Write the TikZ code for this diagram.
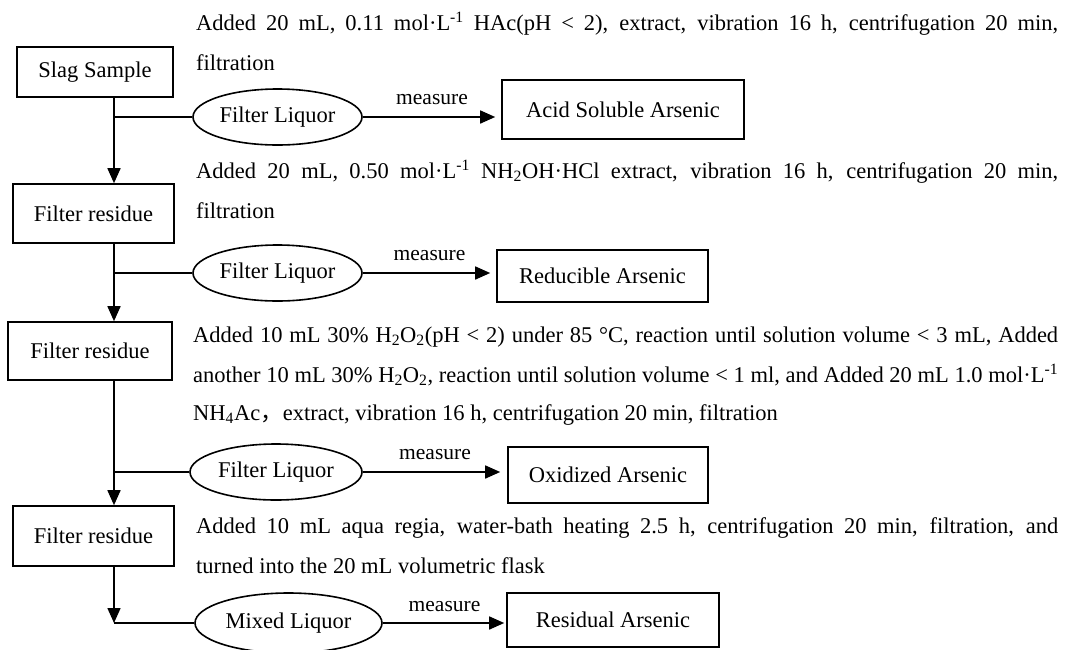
\documentclass[tikz,border=0pt]{standalone}
\usepackage{fontspec}
\setmainfont{Liberation Serif}
\newfontfamily\cjk{Noto Sans CJK SC}
\usepackage{graphicx}
\usetikzlibrary{arrows.meta,shapes.geometric}
\newsavebox\lnbox
\newcommand\fitline[2]{\sbox\lnbox{#2}\ifdim\wd\lnbox>#1\relax\resizebox{#1}{\height}{\usebox\lnbox}\else\makebox[#1][s]{#2}\fi}
\newcommand\sub[1]{\textsubscript{#1}}
\newcommand\sps[1]{\textsuperscript{#1}}
\begin{document}
\begin{tikzpicture}[x=1pt,y=-1pt,
  base/.style={line width=1.6pt},
  box/.style={base,draw,rectangle,inner sep=0pt,font=\fontsize{22.5}{26}\selectfont},
  liq/.style={base,draw,ellipse,inner sep=0pt,font=\fontsize{22.5}{26}\selectfont},
  arr/.style={base,-{Triangle[length=15pt,width=13pt]}},
  lbl/.style={inner sep=0pt,font=\fontsize{21.5}{26}\selectfont},
  txt/.style={anchor=base west,inner sep=0pt,font=\fontsize{22.5}{26}\selectfont}]
\clip (0,0) rectangle (1069,649);
\fill[white] (0,0) rectangle (1069,649);
% left column
\node[box,minimum width=156pt,minimum height=50pt] (slag) at (95,72) {Slag Sample};
\node[box,minimum width=161pt,minimum height=59pt] (res1) at (93.5,213.5) {Filter residue};
\node[box,minimum width=164pt,minimum height=58pt] (res2) at (90,351) {Filter residue};
\node[box,minimum width=161pt,minimum height=60pt] (res3) at (93.5,536) {Filter residue};
% liquors
\node[liq,minimum width=169pt,minimum height=56pt] (ell1) at (277.5,117) {Filter Liquor};
\node[liq,minimum width=169pt,minimum height=56pt] (ell2) at (277.5,273) {Filter Liquor};
\node[liq,minimum width=172pt,minimum height=56pt] (ell3) at (276,472) {Filter Liquor};
\node[liq,minimum width=187pt,minimum height=60pt] (ell4) at (288.5,623) {Mixed Liquor};
% results
\node[box,minimum width=242pt,minimum height=59pt] (acid) at (623,109.5) {Acid Soluble Arsenic};
\node[box,minimum width=211pt,minimum height=52pt] (redu) at (602.5,276) {Reducible Arsenic};
\node[box,minimum width=200pt,minimum height=56pt] (oxid) at (608,475) {Oxidized Arsenic};
\node[box,minimum width=212pt,minimum height=54pt] (resi) at (613,620) {Residual Arsenic};
% branch points
\coordinate (b1) at (114,117);
\coordinate (b2) at (114,273);
\coordinate (b3) at (114,472);
\coordinate (b4) at (114,623);
\draw[arr] (slag.south -| b1) -- (res1.north -| b1);
\draw[base] (b1) -- (ell1.west);
\draw[arr] (res1.south -| b2) -- (res2.north -| b2);
\draw[base] (b2) -- (ell2.west);
\draw[arr] (res2.south -| b3) -- (res3.north -| b3);
\draw[base] (b3) -- (ell3.west);
\draw[arr] (res3.south -| b4) -- (b4);
\draw[base] (b4) -- (ell4.west);
% measure arrows
\draw[arr,shorten >=6pt] (ell1.east) -- node[lbl,above=11pt]{measure} (acid.west |- ell1.east);
\draw[arr,shorten >=6pt] (ell2.east) -- node[lbl,above=11pt]{measure} (redu.west |- ell2.east);
\draw[arr,shorten >=7pt] (ell3.east) -- node[lbl,above=11pt]{measure} (oxid.west |- ell3.east);
\draw[arr,shorten >=2pt] (ell4.east) -- node[lbl,above=11pt]{measure} (resi.west |- ell4.east);
% descriptive texts
\node[txt] (t1a) at (196,30) {\fitline{862pt}{Added 20 mL, 0.11 mol·L\sps{-1} HAc(pH < 2), extract, vibration 16 h, centrifugation 20 min,}};
\node[txt] (t1b) at (196,70) {filtration};
\node[txt] (t2a) at (196,178) {\fitline{862pt}{Added 20 mL, 0.50 mol·L\sps{-1} NH\sub{2}OH·HCl extract, vibration 16 h, centrifugation 20 min,}};
\node[txt] (t2b) at (196,218) {filtration};
\node[txt] (t3a) at (193,342) {\fitline{865pt}{Added 10 mL 30\% H\sub{2}O\sub{2}(pH < 2) under 85 °C, reaction until solution volume < 3 mL, Added}};
\node[txt] (t3b) at (193,382) {\fitline{865pt}{another 10 mL 30\% H\sub{2}O\sub{2}, reaction until solution volume < 1 ml, and Added 20 mL 1.0 mol·L\sps{-1}}};
\node[txt] (t3c) at (193,420) {NH\sub{4}Ac{\cjk ，}extract, vibration 16 h, centrifugation 20 min, filtration};
\node[txt] (t4a) at (196,533) {\fitline{862pt}{Added 10 mL aqua regia, water-bath heating 2.5 h, centrifugation 20 min, filtration, and}};
\node[txt] (t4b) at (196,573) {turned into the 20 mL volumetric flask};
\end{tikzpicture}
\end{document}
